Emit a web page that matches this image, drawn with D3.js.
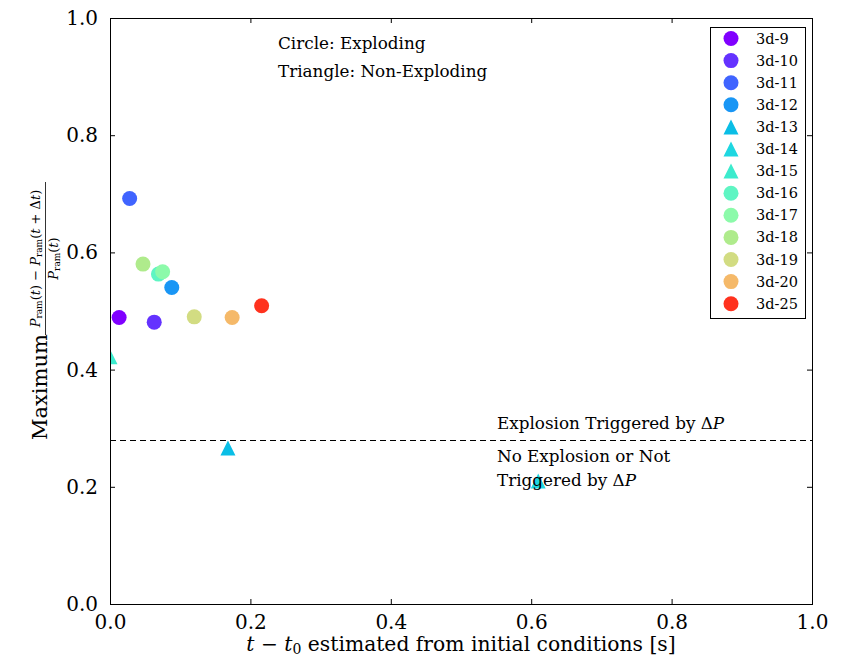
<!DOCTYPE html>
<html>
<head>
<meta charset="utf-8">
<script src="https://cdnjs.cloudflare.com/ajax/libs/d3/7.8.5/d3.min.js"></script>
<style>
    body { margin: 0; background: white; }
    text { font-family: "DejaVu Serif", "Liberation Serif", serif; fill: #000; }
</style>
</head>
<body>
<div id="chart"></div>
<script>
// runs (legend order), their times and pressure drops, and marker shape
let runs = ["3d-9", "3d-10", "3d-11", "3d-12", "3d-13", "3d-14", "3d-15", "3d-16", "3d-17", "3d-18", "3d-19", "3d-20", "3d-25"];
let tVals = [0.013, 0.063, 0.028, 0.088, 0.168, 0.610, 0.000, 0.069, 0.075, 0.047, 0.120, 0.174, 0.216];
let dpVals = [0.489, 0.481, 0.692, 0.540, 0.266, 0.210, 0.422, 0.563, 0.567, 0.580, 0.490, 0.489, 0.509];
let exploding = [true, true, true, true, false, false, false, true, true, true, true, true, true];
let threshold = 0.28;
let ticks = [0.0, 0.2, 0.4, 0.6, 0.8, 1.0];

// colours picked off the rainbow map
let colors = ["#8000ff", "#6432ff", "#4064ff", "#1996f5", "#0abee6", "#1ed7e1", "#3cebcd",
              "#5ff5c3", "#8cfaaa", "#afeb8c", "#d2dc82", "#f5b969", "#ff321e"];

let serif = '"DejaVu Serif", "Liberation Serif", serif';

let width = 845;
let height = 657;
let margin = { left: 110, right: 33, top: 18, bottom: 53 };

let svg = d3.select("#chart").append("svg")
    .attr("width", width)
    .attr("height", height)
    .style("font-family", serif);

let x = d3.scaleLinear().domain([0, 1]).range([margin.left, width - margin.right]);
let y = d3.scaleLinear().domain([0, 1]).range([height - margin.bottom, margin.top]);
let color = d3.scaleOrdinal().domain(runs).range(colors);

let data = runs.map(function(r, i) {
    return { run: r, t: tVals[i], dp: dpVals[i], exp: exploding[i] };
});

//matplotlib style triangle, centred on its box
function tri(s) {
    let h = s / 2;
    return `M0,${-h}L${h},${h}L${-h},${h}Z`;
}
let msize = 15;

svg.append("defs").append("clipPath").attr("id", "clip")
    .append("rect")
    .attr("x", x(0)).attr("y", y(1))
    .attr("width", x(1) - x(0)).attr("height", y(0) - y(1));

//axes, ticks inward on all sides
let tickLen = 5;
function fixAxis(g) {
    g.select(".domain").remove();
    g.attr("font-family", serif).attr("font-size", 20);
    g.selectAll(".tick text").attr("fill", "#000");
    g.selectAll(".tick line").attr("stroke", "#000");
}
svg.append("g")
    .attr("transform", `translate(0,${y(0)})`)
    .call(d3.axisBottom(x).tickValues(ticks).tickFormat(d3.format(".1f")).tickSizeInner(-tickLen).tickSizeOuter(0).tickPadding(11))
    .call(fixAxis);
svg.append("g")
    .attr("transform", `translate(0,${y(1)})`)
    .call(d3.axisTop(x).tickValues(ticks).tickFormat("").tickSizeInner(-tickLen).tickSizeOuter(0))
    .call(fixAxis);
svg.append("g")
    .attr("transform", `translate(${x(0)},0)`)
    .call(d3.axisLeft(y).tickValues(ticks).tickFormat(d3.format(".1f")).tickSizeInner(-tickLen).tickSizeOuter(0).tickPadding(12))
    .call(fixAxis);
svg.append("g")
    .attr("transform", `translate(${x(1)},0)`)
    .call(d3.axisRight(y).tickValues(ticks).tickFormat("").tickSizeInner(-tickLen).tickSizeOuter(0))
    .call(fixAxis);

//threshold line
let ty = Math.round(y(threshold)) + 0.5;
svg.append("line")
    .attr("x1", x(0)).attr("x2", x(1))
    .attr("y1", ty).attr("y2", ty)
    .attr("stroke", "#000")
    .attr("stroke-width", 1)
    .attr("stroke-dasharray", "6,4");

//points
let pts = svg.append("g").attr("clip-path", "url(#clip)");
pts.selectAll("path")
    .data(data)
    .enter()
    .append("path")
    .attr("transform", d => `translate(${x(d.t)},${y(d.dp)})`)
    .attr("d", d => d.exp ? d3.symbol(d3.symbolCircle, Math.PI * msize * msize / 4)() : tri(msize))
    .attr("fill", d => color(d.run));

//frame
svg.append("rect")
    .attr("x", x(0) + 0.5).attr("y", y(1) + 0.5)
    .attr("width", x(1) - x(0)).attr("height", y(0) - y(1))
    .attr("fill", "none")
    .attr("stroke", "#000")
    .attr("stroke-width", 1);

//notes
let noteSize = "16.8px";
svg.append("text").attr("x", 278).attr("y", 49).style("font-size", noteSize).text("Circle: Exploding");
svg.append("text").attr("x", 278).attr("y", 77).style("font-size", noteSize).text("Triangle: Non-Exploding");

function deltaP(sel, txt) {
    sel.append("tspan").text(txt + "Δ");
    sel.append("tspan").style("font-style", "italic").text("P");
}
deltaP(svg.append("text").attr("x", 497).attr("y", 429).style("font-size", noteSize), "Explosion Triggered by ");
svg.append("text").attr("x", 497).attr("y", 462).style("font-size", noteSize).text("No Explosion or Not");
deltaP(svg.append("text").attr("x", 497).attr("y", 486).style("font-size", noteSize), "Triggered by ");

//x label
let xl = svg.append("text")
    .attr("x", (x(0) + x(1)) / 2)
    .attr("y", 651)
    .attr("text-anchor", "middle")
    .style("font-size", "20.3px");
xl.append("tspan").style("font-style", "italic").text("t");
xl.append("tspan").text(" − ");
xl.append("tspan").style("font-style", "italic").text("t");
xl.append("tspan").attr("dy", 3).style("font-size", "14px").text("0");
xl.append("tspan").attr("dy", -3).text(" estimated from initial conditions [s]");

//y label, rotated
let yl = svg.append("g").attr("transform", "translate(0,440) rotate(-90)");
yl.append("text").attr("x", 0).attr("y", 47).style("font-size", "21px").text("Maximum");
yl.append("line")
    .attr("x1", 105).attr("x2", 258)
    .attr("y1", 45.5).attr("y2", 45.5)
    .attr("stroke", "#000").attr("stroke-width", 0.8);

function pram(sel) {
    sel.append("tspan").style("font-style", "italic").text("P");
    sel.append("tspan").attr("dy", 2).style("font-size", "9px").text("ram");
    sel.append("tspan").attr("dy", -2).text("(");
}
let num = yl.append("text").attr("x", 181.5).attr("y", 40).attr("text-anchor", "middle").style("font-size", "13px");
pram(num);
num.append("tspan").style("font-style", "italic").text("t");
num.append("tspan").text(") − ");
pram(num);
num.append("tspan").style("font-style", "italic").text("t");
num.append("tspan").text(" + Δ");
num.append("tspan").style("font-style", "italic").text("t");
num.append("tspan").text(")");

let den = yl.append("text").attr("x", 181.5).attr("y", 58).attr("text-anchor", "middle").style("font-size", "13px");
pram(den);
den.append("tspan").style("font-style", "italic").text("t");
den.append("tspan").text(")");

//legend
let lg = svg.append("g");
lg.append("rect")
    .attr("x", 710.5).attr("y", 27.5)
    .attr("width", 95).attr("height", 291)
    .attr("fill", "white")
    .attr("stroke", "#000")
    .attr("stroke-width", 1);

let items = lg.selectAll(".item")
    .data(data)
    .enter()
    .append("g")
    .attr("class", "item")
    .attr("transform", (d, i) => `translate(731,${38.5 + i * 22.1})`);
items.append("path")
    .attr("d", d => d.exp ? d3.symbol(d3.symbolCircle, Math.PI * msize * msize / 4)() : tri(msize))
    .attr("fill", d => color(d.run));
items.append("text")
    .attr("x", 25)
    .attr("y", 5)
    .style("font-size", "14.5px")
    .text(d => d.run);
</script>
</body>
</html>
